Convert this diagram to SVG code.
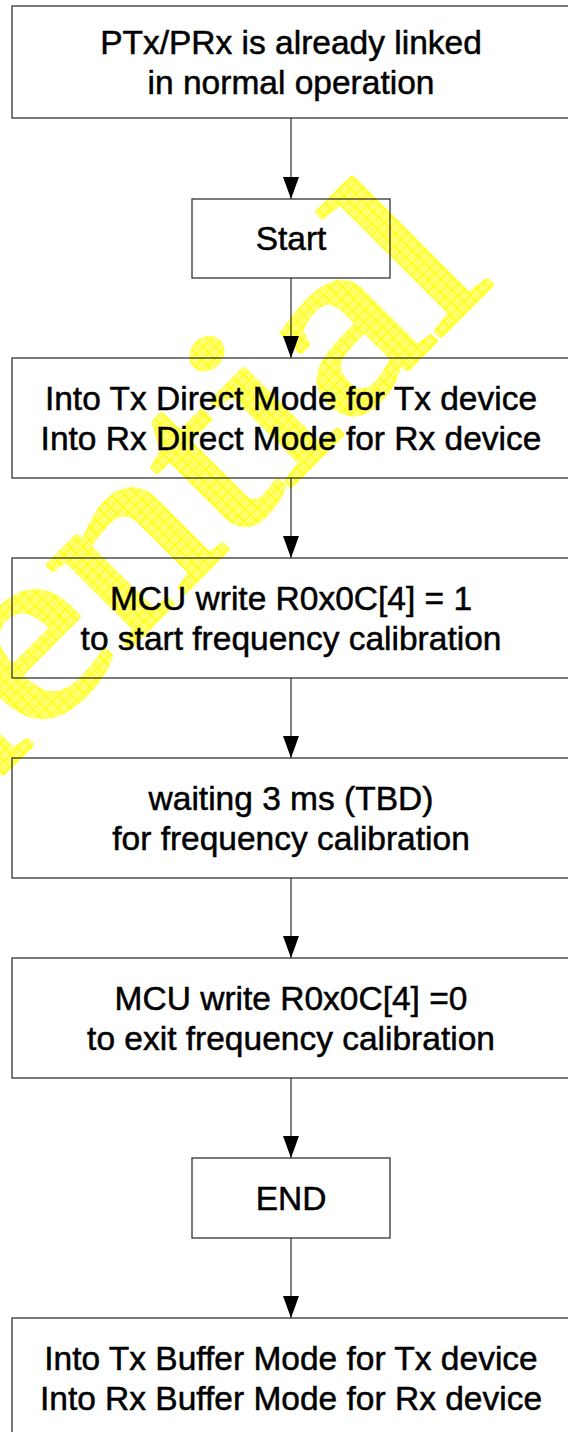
<svg xmlns="http://www.w3.org/2000/svg" width="568" height="1432" viewBox="0 0 568 1432">
<defs>
<pattern id="hatch" width="8" height="8" patternUnits="userSpaceOnUse">
<rect width="8" height="8" fill="#ffff70"/>
<path d="M0 0.5H8M0.5 0V8" stroke="#ffff00" stroke-width="1"/>
</pattern>
<marker id="arr" markerWidth="22" markerHeight="16" refX="22" refY="8" orient="auto" markerUnits="userSpaceOnUse" viewBox="0 0 22 16">
<path d="M0 0L22 8L0 16Z" fill="#000"/>
</marker>
<style>
.box{fill:none;stroke:#333;stroke-width:1.3}
.t{font-family:"Liberation Sans",Arial,sans-serif;font-size:33.5px;fill:#000;stroke:#000;stroke-width:0.5;text-anchor:middle}
.wm{font-family:"Liberation Serif","Times New Roman",serif;font-size:250px;fill:url(#hatch);stroke:url(#hatch);stroke-width:6;stroke-linejoin:round;text-anchor:end}
.c{stroke:#000;stroke-width:1;fill:none}
</style>
</defs>
<rect width="568" height="1432" fill="#fff"/>
<g id="watermark">
<text class="wm" transform="translate(495,281) rotate(-45) scale(1.176,1)">Confidential</text>
</g>
<g id="connectors">
<line class="c" x1="291" y1="118" x2="291" y2="199" marker-end="url(#arr)"/>
<line class="c" x1="291" y1="278" x2="291" y2="358" marker-end="url(#arr)"/>
<line class="c" x1="291" y1="478" x2="291" y2="558" marker-end="url(#arr)"/>
<line class="c" x1="291" y1="678" x2="291" y2="758" marker-end="url(#arr)"/>
<line class="c" x1="291" y1="878" x2="291" y2="958" marker-end="url(#arr)"/>
<line class="c" x1="291" y1="1078" x2="291" y2="1158" marker-end="url(#arr)"/>
<line class="c" x1="291" y1="1238" x2="291" y2="1318" marker-end="url(#arr)"/>
</g>
<g id="n1"><rect class="box" x="12" y="6" width="560" height="112"/>
<text class="t" x="291" y="54">PTx/PRx is already linked</text>
<text class="t" x="291" y="94">in normal operation</text></g>
<g id="n2"><rect class="box" x="192" y="199" width="198" height="79"/>
<text class="t" x="291" y="250">Start</text></g>
<g id="n3"><rect class="box" x="12" y="358" width="560" height="120"/>
<text class="t" x="291" y="410">Into Tx Direct Mode for Tx device</text>
<text class="t" x="291" y="450">Into Rx Direct Mode for Rx device</text></g>
<g id="n4"><rect class="box" x="12" y="558" width="560" height="120"/>
<text class="t" x="291" y="610">MCU write R0x0C[4] = 1</text>
<text class="t" x="291" y="650">to start frequency calibration</text></g>
<g id="n5"><rect class="box" x="12" y="758" width="560" height="120"/>
<text class="t" x="291" y="810">waiting 3 ms (TBD)</text>
<text class="t" x="291" y="850">for frequency calibration</text></g>
<g id="n6"><rect class="box" x="12" y="958" width="560" height="120"/>
<text class="t" x="291" y="1010">MCU write R0x0C[4] =0</text>
<text class="t" x="291" y="1050">to exit frequency calibration</text></g>
<g id="n7"><rect class="box" x="192" y="1158" width="198" height="80"/>
<text class="t" x="291" y="1210">END</text></g>
<g id="n8"><rect class="box" x="12" y="1318" width="560" height="130"/>
<text class="t" x="291" y="1370">Into Tx Buffer Mode for Tx device</text>
<text class="t" x="291" y="1410">Into Rx Buffer Mode for Rx device</text></g>
</svg>
